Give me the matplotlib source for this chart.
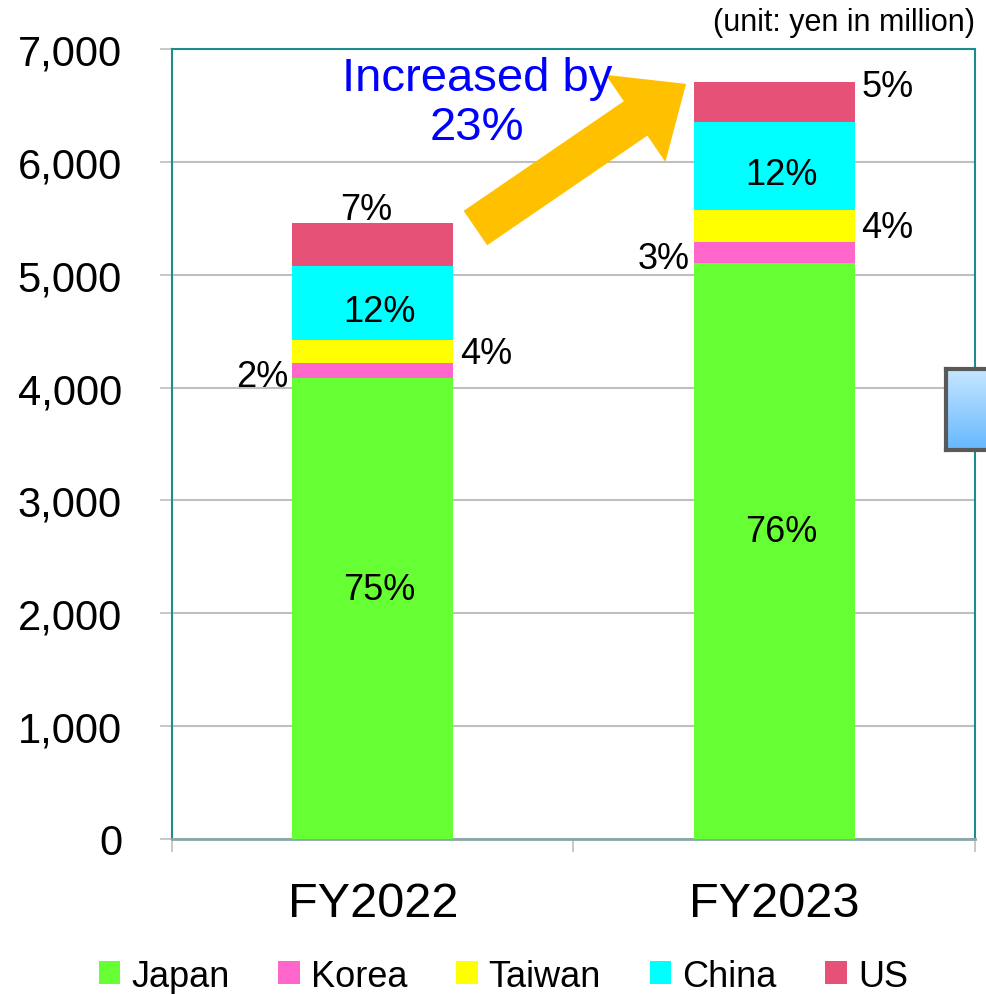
import numpy as np
import matplotlib
matplotlib.use("Agg")
import matplotlib.pyplot as plt

plt.rcParams['font.family'] = ['Liberation Sans', 'DejaVu Sans']

# data (yen in million)
years = ["FY2022", "FY2023"]
regions = ["Japan", "Korea", "Taiwan", "China", "US"]
japan = [4083, 5102]
korea = [133, 186]
taiwan = [204, 283]
china = [655, 779]
us = [381, 355]
colors = ["#66FF33", "#FF66CC", "#FFFF00", "#00FFFF", "#E65277"]

# where each share label sits: centre of segment, left / right of bar, or above
label_mode = {"Japan": "center", "Korea": "left", "Taiwan": "right",
              "China": "center", "US": ["above", "topright"]}

fig = plt.figure(figsize=(9.87, 9.95), dpi=100)
ax = fig.add_axes([0.1743, 0.1558, 0.8135, 0.7939])

series = [japan, korea, taiwan, china, us]
x = np.arange(len(years))
width = 0.40
bottom = np.zeros(len(years))
totals = np.sum(series, axis=0)

for name, vals, col in zip(regions, series, colors):
    vals = np.array(vals, dtype=float)
    ax.bar(x, vals, width, bottom=bottom, color=col, label=name, zorder=3)
    for i in range(len(years)):
        pct = f"{vals[i] / totals[i] * 100:.0f}%"
        mid = bottom[i] + vals[i] / 2
        top = bottom[i] + vals[i]
        mode = label_mode[name]
        if isinstance(mode, list):
            mode = mode[i]
        if mode == "center":
            dy = 14 if name == "Japan" else -6
            ax.annotate(pct, (x[i], mid), xytext=(5, dy), textcoords="offset points",
                        ha="center", va="center", fontsize=26)
        elif mode == "left":
            ax.annotate(pct, (x[i] - width / 2, mid), xytext=(-3, -4), textcoords="offset points",
                        ha="right", va="center", fontsize=26)
        elif mode == "right":
            ax.annotate(pct, (x[i] + width / 2, mid), xytext=(5, -1), textcoords="offset points",
                        ha="left", va="center", fontsize=26)
        elif mode == "topright":
            ax.annotate(pct, (x[i] + width / 2, top), xytext=(5, -3), textcoords="offset points",
                        ha="left", va="center", fontsize=26)
        else:
            ax.annotate(pct, (x[i], top), xytext=(-5, -3), textcoords="offset points",
                        ha="center", va="bottom", fontsize=26)
    bottom += vals

ax.set_xlim(-0.5, 1.5)
ax.set_ylim(0, 7000)
ax.set_yticks(np.arange(0, 7001, 1000))
ax.set_yticklabels([f"{v:,}" for v in range(0, 7001, 1000)], fontsize=30)
ax.set_xticks(x)
ax.set_xticklabels(years, fontsize=35)
ax.set_xticks([-0.5, 0.5, 1.5], minor=True)
ax.tick_params(axis="x", which="major", length=0, pad=30)
ax.tick_params(axis="x", which="minor", length=9, color="#BFBFBF", width=1.2)
ax.tick_params(axis="y", length=9, color="#BFBFBF", width=1.2, pad=27)
ax.grid(axis="y", color="#BFBFBF", linewidth=1.5, zorder=0)
for side in ["top", "right", "left"]:
    ax.spines[side].set_color("#1E8C8C")
    ax.spines[side].set_linewidth(1.5)
ax.spines["bottom"].set_color("#8AA6A6")
ax.spines["bottom"].set_linewidth(2)

# growth arrow and note
ax.annotate("", xy=(0.786, 6705), xytext=(0.25, 5400),
            arrowprops=dict(arrowstyle="simple,head_length=1.1,head_width=1.9,tail_width=0.75",
                            mutation_scale=40, color="#FFC000", lw=0), zorder=4)
growth = (totals[1] / totals[0] - 1) * 100
ax.text(0.26, 6530, f"Increased by\n{growth:.0f}%", color="#0000FF", fontsize=34,
        ha="center", va="center", linespacing=1.15, zorder=5)

fig.text(0.988, 0.977, "(unit: yen in million)", fontsize=22, ha="right", va="center")

# cropped box at the right edge
bax = fig.add_axes([0.958, 0.547, 0.06, 0.081])
grad = np.linspace(0, 1, 100).reshape(-1, 1)
bax.imshow(grad, aspect="auto", cmap=matplotlib.colors.LinearSegmentedColormap.from_list(
    "b", ["#C6E6FF", "#66B8FF"]))
bax.set_xticks([])
bax.set_yticks([])
for s in bax.spines.values():
    s.set_color("#595959")
    s.set_linewidth(3)

fig.legend(loc="center", bbox_to_anchor=(0.51, 0.018), ncol=5, frameon=False, fontsize=26,
           handlelength=0.6, handleheight=0.6, handletextpad=0.3, columnspacing=1.35)

fig.savefig("out.png", dpi=100)
